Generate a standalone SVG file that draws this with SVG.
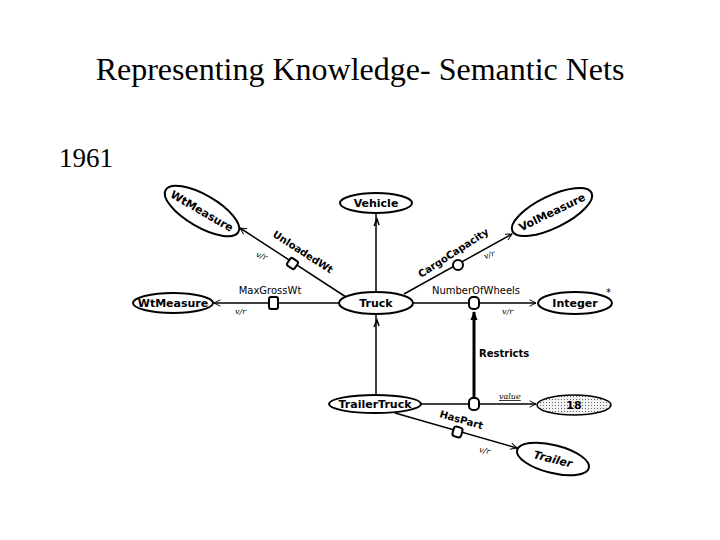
<svg xmlns="http://www.w3.org/2000/svg" width="720" height="540" viewBox="0 0 720 540">
<defs>
<style>
.title{font-family:"Liberation Serif","Times New Roman",serif;fill:#000}
.node{fill:#fff;stroke:#000;stroke-width:2}
.nl{font-family:"DejaVu Sans",sans-serif;font-weight:bold;font-size:11px;fill:#000;text-anchor:middle}
.el{font-family:"DejaVu Sans",sans-serif;font-size:10px;fill:#000}
.rl{font-family:"DejaVu Sans",sans-serif;font-weight:bold;font-size:10px;fill:#000}
.vr{font-family:"DejaVu Serif",serif;font-style:italic;font-size:8px;fill:#000}
.ln{stroke:#000;stroke-width:1.5;fill:none}
.bx{fill:#fff;stroke:#000;stroke-width:2}
</style>
<marker id="open" viewBox="0 0 10 10" refX="9" refY="5" markerWidth="8" markerHeight="8" orient="auto" markerUnits="userSpaceOnUse">
<path d="M1,1 L9,5 L1,9" fill="none" stroke="#000" stroke-width="1.2"/>
</marker>
<marker id="solid" viewBox="0 0 10 10" refX="9" refY="5" markerWidth="9" markerHeight="9" orient="auto" markerUnits="userSpaceOnUse">
<path d="M0,1 L10,5 L0,9 z" fill="#000"/>
</marker>
<pattern id="dots" width="3" height="3" patternUnits="userSpaceOnUse">
<rect width="3" height="3" fill="#f2f2f2"/>
<rect width="1" height="1" fill="#666"/>
</pattern>
</defs>
<rect width="720" height="540" fill="#fff"/>
<text class="title" x="360" y="80" font-size="32" text-anchor="middle">Representing Knowledge- Semantic Nets</text>
<text class="title" x="59" y="167" font-size="27">1961</text>

<g id="connectors">
<line class="ln" x1="376" y1="292" x2="376" y2="214"/>
<path class="ln" d="M374,226 L377,219 L379,225" stroke-width="1"/>
<line class="ln" x1="376" y1="396" x2="376" y2="315"/>
<path class="ln" d="M374,327 L377,320 L379,326" stroke-width="1"/>
<line class="ln" x1="346" y1="297" x2="240" y2="228" marker-end="url(#open)"/>
<line class="ln" x1="404" y1="294" x2="512" y2="234" marker-end="url(#open)"/>
<line class="ln" x1="339" y1="303" x2="214" y2="303" marker-end="url(#open)"/>
<line class="ln" x1="413" y1="303" x2="536" y2="303" marker-end="url(#open)"/>
<line class="ln" x1="421" y1="404" x2="536" y2="404" marker-end="url(#open)"/>
<line class="ln" x1="395" y1="413" x2="517" y2="448" stroke-width="2" marker-end="url(#open)"/>
<line x1="474" y1="398" x2="474" y2="312" stroke="#000" stroke-width="3" marker-end="url(#solid)"/>
<rect class="bx" x="288" y="259" width="9" height="9" rx="2" transform="rotate(34 292.5 263.5)"/>
<circle class="bx" cx="458" cy="265" r="5"/>
<rect class="bx" x="269" y="297" width="9" height="12" rx="2"/>
<rect class="bx" x="469" y="297" width="10" height="12" rx="4"/>
<rect class="bx" x="469" y="398" width="10" height="12" rx="4"/>
<rect class="bx" x="453" y="427" width="9" height="10" rx="3" transform="rotate(16 457.5 432)"/>
<text class="rl" transform="translate(272,236) rotate(33)">UnloadedWt</text>
<text class="rl" transform="translate(421,278) rotate(-33)">CargoCapacity</text>
<text class="rl" transform="translate(439,417) rotate(16)">HasPart</text>
<text class="el" x="270" y="294" text-anchor="middle">MaxGrossWt</text>
<text class="el" x="476" y="294" text-anchor="middle">NumberOfWheels</text>
<text class="rl" x="479" y="357" font-size="11.5">Restricts</text>
<text class="vr" x="256" y="258" transform="rotate(20 260 256)">v/r</text>
<text class="vr" x="235" y="314">v/r</text>
<text class="vr" x="484" y="258" transform="rotate(-20 488 256)">v/r</text>
<text class="vr" x="502" y="314">v/r</text>
<text class="vr" x="479" y="453" transform="rotate(12 483 451)">v/r</text>
<text class="vr" x="499" y="399" text-decoration="underline">value</text>
</g>

<g id="n-wtmeasure1">
<ellipse class="node" cx="202" cy="211" rx="42" ry="16" transform="rotate(30 202 211)"/>
<text class="nl" x="202" y="215" font-size="12" transform="rotate(30 202 211)">WtMeasure</text>
</g>
<g id="n-vehicle">
<ellipse class="node" cx="376" cy="203" rx="36" ry="10"/>
<text class="nl" x="376" y="207">Vehicle</text>
</g>
<g id="n-volmeasure">
<ellipse class="node" cx="552" cy="212" rx="44" ry="16" transform="rotate(-26 552 212)"/>
<text class="nl" x="552" y="216" font-size="12" transform="rotate(-26 552 212)">VolMeasure</text>
</g>
<g id="n-wtmeasure2">
<ellipse class="node" cx="173" cy="303" rx="40" ry="10"/>
<text class="nl" x="173" y="307" font-weight="normal">WtMeasure</text>
</g>
<g id="n-truck">
<ellipse class="node" cx="376" cy="303" rx="37" ry="11"/>
<text class="nl" x="376" y="307">Truck</text>
</g>
<g id="n-integer">
<ellipse class="node" cx="575" cy="303" rx="37" ry="11"/>
<text class="nl" x="575" y="307">Integer</text>
<text class="el" x="606" y="296" font-size="12">*</text>
</g>
<g id="n-trailertruck">
<ellipse class="node" cx="375" cy="404" rx="46" ry="9"/>
<text class="nl" x="375" y="408">TrailerTruck</text>
</g>
<g id="n-18">
<ellipse cx="574" cy="405" rx="37" ry="10" fill="url(#dots)" stroke="#000" stroke-width="1.5"/>
<text class="nl" x="574" y="409">18</text>
</g>
<g id="n-trailer">
<ellipse class="node" cx="553" cy="459" rx="37" ry="14" transform="rotate(14 553 459)"/>
<text class="nl" x="553" y="463" font-style="italic" transform="rotate(14 553 459)">Trailer</text>
</g>
</svg>
